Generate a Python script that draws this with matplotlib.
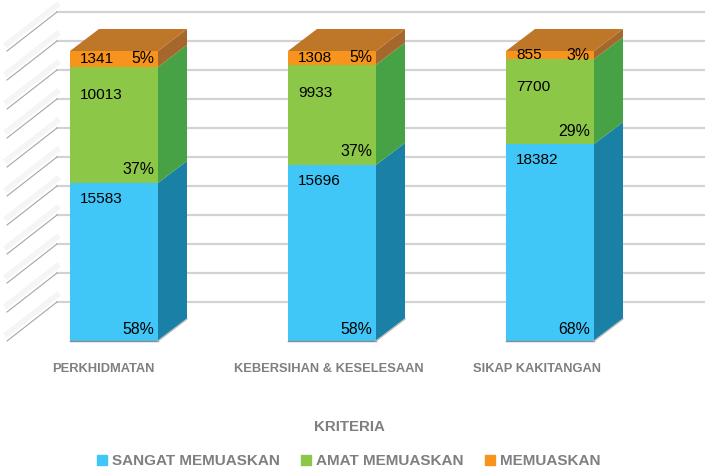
import numpy as np
import matplotlib.pyplot as plt
from matplotlib.patches import Patch

plt.rcParams["font.family"] = ["Liberation Sans", "DejaVu Sans"]

categories = ["PERKHIDMATAN", "KEBERSIHAN & KESELESAAN", "SIKAP KAKITANGAN"]
series = ["SANGAT MEMUASKAN", "AMAT MEMUASKAN", "MEMUASKAN"]

# segment heights as drawn in the picture (axis 0-100)
sangat = [54.5, 60.7, 67.9]
amat = [40.0, 34.6, 29.3]
memuaskan = [5.5, 4.7, 2.8]

# printed labels
sangat_n = [15583, 15696, 18382]
amat_n = [10013, 9933, 7700]
memuaskan_n = [1341, 1308, 855]
sangat_pct = [58, 58, 68]
amat_pct = [37, 37, 29]
memuaskan_pct = [5, 5, 3]

front = ["#40C6F7", "#8CC748", "#F7941D"]
side = ["#1B80A6", "#47A245", "#A5672B"]
top_col = "#BE7729"
grid_col = "#D2D2D2"
text_gray = "#7F7F7F"

W, H = 705, 467
px_x = 218.0   # pixels per category
px_y = 2.9     # pixels per axis unit
x0 = 114.0     # pixel of first category
y0 = 341.0     # pixel of axis zero

fig = plt.figure(figsize=(W / 100, H / 100), dpi=100)
ax = fig.add_axes([0, 0, 1, 1])
ax.set_xlim(-x0 / px_x, (W - x0) / px_x)
ax.set_ylim((y0 - H) / px_y, y0 / px_y)
ax.axis("off")

bar_w = 88 / px_x
dx, dy = 29 / px_x, 22 / px_y        # depth of a bar
wx, wy = 50 / px_x, 39 / px_y        # depth of the side wall
left_edge = (7 - x0) / px_x

# walls
for t in np.arange(0, 101, 10):
    ax.plot([left_edge + wx, ax.get_xlim()[1]], [t + wy, t + wy], color=grid_col, lw=1.6, zorder=1)
    ax.plot([left_edge, left_edge + wx], [t + 2.4, t + wy + 2.4], color="#F5F5F5", lw=4, zorder=1)
    ax.plot([left_edge, left_edge + wx], [t, t + wy], color="#A6A6A6", lw=0.8, zorder=1.5)

xs = np.arange(len(categories))
heights = [sangat, amat, memuaskan]
counts = [sangat_n, amat_n, memuaskan_n]
pcts = [sangat_pct, amat_pct, memuaskan_pct]
count_off = [16, 28, None]
pct_off = [12, 13, None]

bottom = np.zeros(3)
for k in range(3):
    h = np.array(heights[k])
    ax.bar(xs, h, bar_w, bottom=bottom, color=front[k], linewidth=0, zorder=3)
    for i in xs:
        r = i + bar_w / 2
        ax.fill([r, r + dx, r + dx, r],
                [bottom[i], bottom[i] + dy, bottom[i] + h[i] + dy, bottom[i] + h[i]],
                color=side[k], linewidth=0, zorder=3)
        top_y = bottom[i] + h[i]
        mid = h[i] * px_y / 2
        c_off = count_off[k] if count_off[k] else mid
        p_off = pct_off[k] if pct_off[k] else mid
        ax.annotate(str(counts[k][i]), (i - bar_w / 2, top_y), xytext=(10, -c_off),
                    textcoords="offset pixels", ha="left", va="center", fontsize=11.1,
                    color="black", zorder=5)
        ax.annotate("%d%%" % pcts[k][i], (i + bar_w / 2, bottom[i]), xytext=(-4, p_off),
                    textcoords="offset pixels", ha="right", va="center", fontsize=11.4,
                    color="black", zorder=5)
    bottom = bottom + h

# top of each bar
for i in xs:
    l, r = i - bar_w / 2, i + bar_w / 2
    ax.fill([l, r, r + dx, l + dx], [100, 100, 100 + dy, 100 + dy], color=top_col, linewidth=0, zorder=3)
    # base lines
    ax.plot([l, r], [0, 0], color="#8A8A8A", lw=1, zorder=4)
    ax.plot([r, r + dx], [0, dy], color="#BDBDBD", lw=1, zorder=4)

# tick labels sit a little left of the bars in the original
label_shift = [-10.5, -3, -13]
for i, name in enumerate(categories):
    ax.annotate(name, (i, (y0 - 369) / px_y), xytext=(label_shift[i], 0), textcoords="offset pixels",
                ha="center", va="center", fontsize=9.3, fontweight="bold", color=text_gray)

ax.text(349 / W, 1 - 427 / H, "KRITERIA", transform=ax.transAxes, ha="center", va="center",
        fontsize=10.8, fontweight="bold", color=text_gray)

handles = [Patch(color=front[k], label=series[k]) for k in range(3)]
ax.legend(handles=handles, ncol=3, loc="center", bbox_to_anchor=(349 / W, 1 - 461 / H), frameon=False,
          prop={"size": 11, "weight": "bold"}, labelcolor=text_gray, handlelength=0.65, handleheight=0.65,
          handletextpad=0.33, columnspacing=1.4, borderpad=0, borderaxespad=0)

fig.savefig("out.png", dpi=100)
